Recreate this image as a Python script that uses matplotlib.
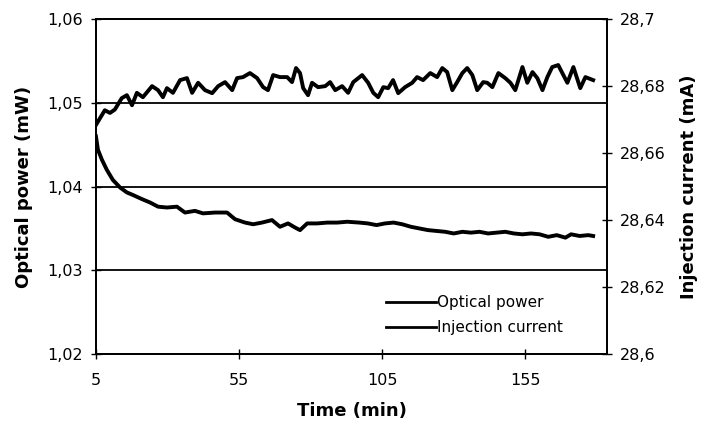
#!/usr/bin/env python3
"""
Optical power and injection current versus time, two y axes.
"""

import matplotlib
matplotlib.use("Agg")
import matplotlib.pyplot as plt
from matplotlib.ticker import FuncFormatter, FixedLocator

# Optical power (mW)
time_power = [5.0, 5.7, 7.1, 8.8, 10.9, 13.4, 15.8, 17.9, 21.1, 23.9,
              26.7, 29.8, 33.3, 36.1, 39.6, 42.4, 46.6, 50.8, 53.6, 57.1,
              59.9, 63.0, 66.5, 69.3, 72.1, 74.6, 76.3, 78.8, 82.3, 85.8,
              89.3, 92.8, 97.0, 100.0, 103.0, 106.0, 109.0, 112.0, 115.0, 118.0,
              121.0, 124.0, 127.0, 130.0, 133.0, 136.0, 139.0, 142.0, 145.0, 148.0,
              151.0, 154.0, 157.0, 160.0, 163.0, 166.0, 169.0, 171.0, 174.0, 177.0,
              178.7]
optical_power = [1.0460, 1.0444, 1.0432, 1.0420, 1.0408, 1.0399, 1.0393, 1.0390, 1.0385, 1.0381,
                 1.0376, 1.0375, 1.0376, 1.0369, 1.0371, 1.0368, 1.0369, 1.0369, 1.0361, 1.0357,
                 1.0355, 1.0357, 1.0360, 1.0352, 1.0356, 1.0351, 1.0348, 1.0356, 1.0356, 1.0357,
                 1.0357, 1.0358, 1.0357, 1.0356, 1.0354, 1.0356, 1.0357, 1.0355, 1.0352, 1.0350,
                 1.0348, 1.0347, 1.0346, 1.0344, 1.0346, 1.0345, 1.0346, 1.0344, 1.0345, 1.0346,
                 1.0344, 1.0343, 1.0344, 1.0343, 1.0340, 1.0342, 1.0339, 1.0343, 1.0341, 1.0342,
                 1.0341]

# Injection current (mA)
time_current = [5.0, 6.4, 8.1, 9.9, 11.6, 14.0, 15.8, 17.6, 19.3, 21.4,
                24.6, 26.7, 28.4, 29.8, 31.9, 34.4, 36.8, 38.6, 40.7, 43.1,
                45.6, 47.7, 50.1, 52.6, 54.3, 56.4, 58.8, 61.3, 63.4, 65.1,
                66.9, 69.3, 71.8, 73.5, 74.9, 76.3, 77.4, 79.1, 80.5, 82.6,
                85.1, 86.8, 88.6, 91.0, 93.1, 94.9, 98.0, 100.1, 101.9, 103.6,
                105.4, 107.1, 108.8, 110.6, 113.0, 115.5, 117.2, 119.3, 121.8, 124.2,
                126.0, 127.7, 129.5, 131.2, 133.0, 134.7, 136.5, 138.2, 140.3, 141.7,
                143.5, 145.6, 148.0, 149.8, 151.5, 154.0, 155.7, 157.5, 159.2, 161.0,
                162.7, 164.4, 166.5, 168.3, 169.7, 171.8, 174.2, 176.0, 178.7]
injection_current = [28.6684, 28.6704, 28.6728, 28.6720, 28.6730, 28.6764, 28.6773, 28.6743, 28.6780, 28.6767,
                     28.6800, 28.6788, 28.6767, 28.6794, 28.6780, 28.6818, 28.6824, 28.6780, 28.6810, 28.6788,
                     28.6779, 28.6800, 28.6812, 28.6788, 28.6824, 28.6827, 28.6839, 28.6824, 28.6797, 28.6788,
                     28.6833, 28.6827, 28.6827, 28.6812, 28.6854, 28.6839, 28.6794, 28.6773, 28.6810, 28.6797,
                     28.6800, 28.6812, 28.6788, 28.6800, 28.6780, 28.6812, 28.6833, 28.6810, 28.6780, 28.6767,
                     28.6797, 28.6794, 28.6818, 28.6779, 28.6797, 28.6810, 28.6827, 28.6818, 28.6839, 28.6827,
                     28.6854, 28.6842, 28.6788, 28.6812, 28.6839, 28.6854, 28.6833, 28.6788, 28.6812, 28.6810,
                     28.6797, 28.6839, 28.6824, 28.6810, 28.6788, 28.6857, 28.6810, 28.6842, 28.6824, 28.6788,
                     28.6827, 28.6857, 28.6863, 28.6833, 28.6810, 28.6857, 28.6794, 28.6827, 28.6818]

x_ticks = [5, 55, 105, 155]
power_ticks = [1.02, 1.03, 1.04, 1.05, 1.06]
current_ticks = [28.6, 28.62, 28.64, 28.66, 28.68, 28.7]


def comma(fmt):
    return FuncFormatter(lambda v, p: fmt(v).replace(".", ","))


fig = plt.figure(figsize=(7.16, 4.26), dpi=100)
ax = fig.add_axes([0.134, 0.169, 0.714, 0.786])
ax2 = ax.twinx()

# Horizontal grid lines on the left axis
ax.yaxis.set_major_locator(FixedLocator(power_ticks))
ax.grid(axis="y", color="black", linewidth=1.3)
ax.set_axisbelow(True)

line_p, = ax.plot(time_power, optical_power, color="black", linewidth=2.8,
                  solid_joinstyle="round", label="Optical power")
line_i, = ax2.plot(time_current, injection_current, color="black", linewidth=2.8,
                   solid_joinstyle="round", label="Injection current")

ax.set_xlim(5, 183.6)
ax.set_ylim(1.02, 1.06)
ax2.set_ylim(28.6, 28.7)

ax.xaxis.set_major_locator(FixedLocator(x_ticks))
ax2.yaxis.set_major_locator(FixedLocator(current_ticks))
ax.yaxis.set_major_formatter(comma(lambda v: f"{v:.2f}"))
ax2.yaxis.set_major_formatter(comma(lambda v: f"{round(v, 2):g}"))

for a in (ax, ax2):
    a.tick_params(direction="inout", length=7, width=1, labelsize=11.5,
                  colors="black")
    for s in a.spines.values():
        s.set_linewidth(1.3)
        s.set_color("black")
ax.tick_params(axis="x", pad=10)
ax.tick_params(axis="y", pad=6)
ax2.tick_params(axis="y", pad=6)

ax.set_xlabel("Time (min)", fontsize=13, fontweight="bold", labelpad=10)
ax.set_ylabel("Optical power (mW)", fontsize=13, fontweight="bold", labelpad=10)
ax2.set_ylabel("Injection current (mA)", fontsize=13, fontweight="bold", labelpad=10)

leg = ax2.legend([line_p, line_i], ["Optical power", "Injection current"],
                 loc="upper left", bbox_to_anchor=(0.567, 0.175), frameon=False,
                 fontsize=11, handlelength=3.3, handletextpad=0.05,
                 labelspacing=0.62, borderpad=0, borderaxespad=0)
for h in leg.get_lines():
    h.set_linewidth(2)

plt.savefig("out.png", dpi=100)
plt.close()
